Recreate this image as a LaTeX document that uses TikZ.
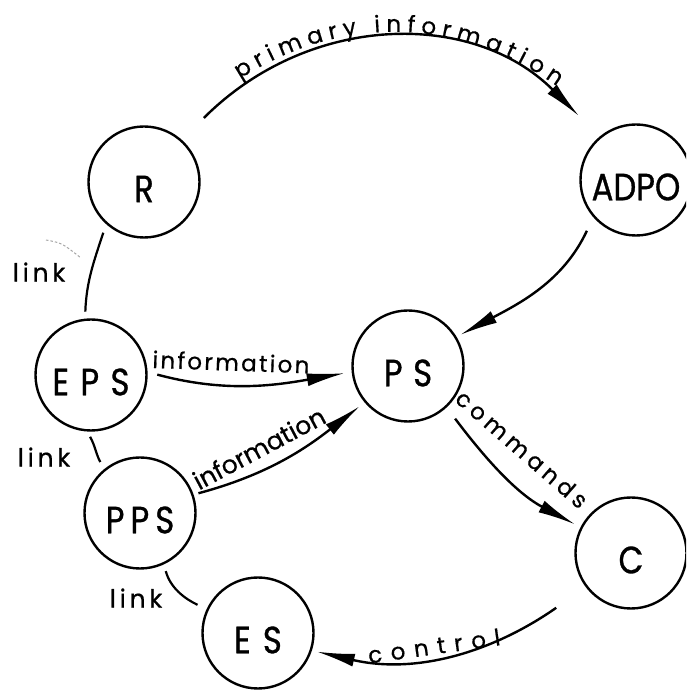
\documentclass[tikz,border=0pt]{standalone}
\usepackage{fontspec}
\usetikzlibrary{arrows.meta,decorations.text}
\newfontfamily\capsfont[FakeStretch=0.85,FakeBold=0.8]{Poppins}
\newfontfamily\lblfont[FakeBold=0.6]{Poppins}
\newcommand\pathstyle{\lblfont\fontsize{23}{23}\selectfont}
\newcommand\spaced[2]{\addfontfeature{LetterSpace=#1}#2}
\begin{document}
\begin{tikzpicture}[x=1pt,y=1pt,
  ring/.style={circle, draw, line width=2.4pt, minimum size=111pt, inner sep=0pt},
  ringtext/.style={font=\capsfont\fontsize{38}{38}\selectfont, yshift=-7pt, inner sep=0pt},
  flow/.style={line width=2.4pt, -{Latex[length=38pt,width=13pt]}},
  tie/.style={line width=2.2pt},
  tag/.style={font=\lblfont\fontsize{25}{25}\selectfont, inner sep=0pt},
  flowtag/.style={font=\lblfont\fontsize{23}{23}\selectfont, inner sep=0pt}
]
\useasboundingbox (0,0) rectangle (686,691);
\clip (0,0) rectangle (686,691);

% the seven stations
\node[ring, label={[ringtext, name=R-t]center:R}] (R) at (144,509) {};
\node[ring, label={[ringtext, name=ADPO-t]center:ADPO}] (ADPO) at (636,511) {};
\node[ring, label={[ringtext, name=EPS-t]center:\spaced{30}{EPS}}] (EPS) at (91,316) {};
\node[ring, label={[ringtext, name=PS-t]center:\spaced{28}{PS}}] (PS) at (408,325) {};
\node[ring, label={[ringtext, name=PPS-t]center:\spaced{16}{PPS}}] (PPS) at (140,178) {};
\node[ring, label={[ringtext, name=C-t]center:C}] (C) at (631,138) {};
\node[ring, label={[ringtext, name=ES-t]center:\spaced{32}{ES}}] (ES) at (258,58) {};

% directed flows
\draw[flow, shorten <=31pt, shorten >=29pt] (R.48) to[out=45, in=135, looseness=1.1] (ADPO.130);
\draw[flow, shorten <=15pt, shorten >=4pt] (ADPO.221) to[out=245, in=28] (PS.31);
\draw[flow, shorten <=10pt, shorten >=7pt] (EPS.3) to[out=-15, in=190] (PS.186);
\draw[flow, shorten <=5pt, shorten >=6pt] (PPS.19) to[out=15, in=218] (PS.220);
\draw[flow, shorten <=14pt, shorten >=6pt] (PS.313) to[out=-53, in=152] (C.153);
\draw[flow, shorten <=36pt, shorten >=5pt] (C.217) to[out=215, in=-13] (ES.342);

% curved caption riding on the top arc
\path[decorate, decoration={text along path, raise=11pt,
    text align={left indent=82pt, right indent=64pt, fit to path},
    text={|\pathstyle|primary information}}]
  (R.48) to[out=45, in=135, looseness=1.1] (ADPO.130);

% captions of the other flows
\node[flowtag, rotate=-2] (info-e) at (231,329) {\spaced{10}{information}};
\node[flowtag, font=\lblfont\fontsize{25}{25}\selectfont, rotate=28] (info-p) at (259,243) {information};
\node[flowtag, rotate=-41] (cmd) at (522,242) {\spaced{20}{commands}};
\node[flowtag, rotate=8] (ctl) at (434,45) {\spaced{38}{control}};

% undirected links
\draw[tie, shorten <=9pt, shorten >=7pt] (R.228) to[out=252, in=88] (EPS.96);
\draw[tie, shorten <=6pt, shorten >=8pt] (EPS.266) to[out=-60, in=120] (PPS.129);
\draw[tie, shorten <=7pt, shorten >=10pt] (PPS.295) to[out=-75, in=155] (ES.155);

\node[tag] (link1) at (39,419) {\spaced{15}{link}};
\node[tag] (link2) at (44,234) {\spaced{15}{link}};
\node[tag] (link3) at (136,93) {\spaced{15}{link}};
\draw[gray!70, line width=1pt, dash pattern=on 2.5pt off 2pt] (46,451) .. controls (62,448) .. (81,433);
\end{tikzpicture}
\end{document}
